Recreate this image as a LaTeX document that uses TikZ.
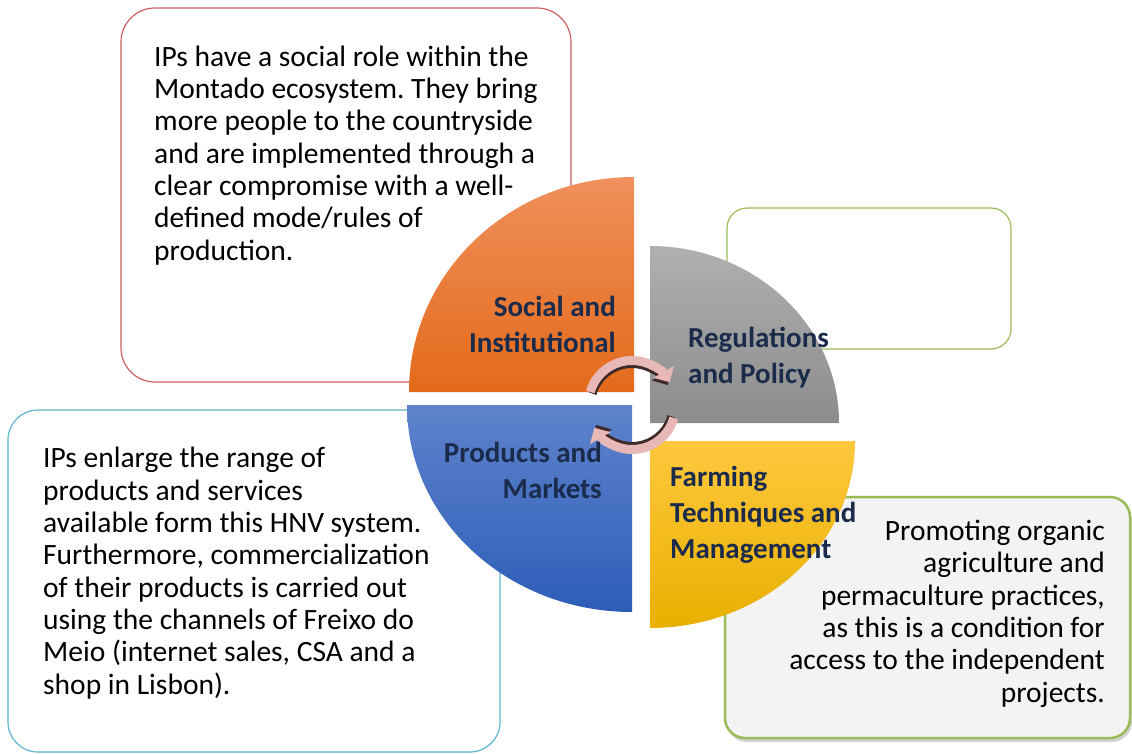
\documentclass[tikz,border=0pt]{standalone}
\usepackage{fontspec}
\setmainfont{Carlito}
\usetikzlibrary{arrows.meta,shadows}
\frenchspacing
\definecolor{navy}{HTML}{1B2B4B}
\definecolor{redb}{HTML}{CC5F61}
\definecolor{cyanb}{HTML}{5EB4CC}
\definecolor{greenb}{HTML}{9BBB59}
\definecolor{boxfill}{HTML}{F3F3F3}
\definecolor{orT}{HTML}{F0905C}
\definecolor{orB}{HTML}{E36A1A}
\definecolor{grT}{HTML}{B0B0B0}
\definecolor{grB}{HTML}{8C8C8C}
\definecolor{blT}{HTML}{5F83CC}
\definecolor{blB}{HTML}{2D5DB8}
\definecolor{yeT}{HTML}{FFC83E}
\definecolor{yeB}{HTML}{E8B000}
\definecolor{arpink}{HTML}{E8B8B6}
\definecolor{ardark}{HTML}{3E2A28}
\begin{document}
\begin{tikzpicture}[x=1pt,y=-1pt,
  box/.style={draw, line width=1.2pt, rounded corners=#1, inner sep=0pt},
  body/.style={font=\fontsize{29.5}{32.3}\selectfont, inner sep=0pt, text=black},
  lab/.style={font=\bfseries\fontsize{29}{35.8}\selectfont, inner sep=0pt, text=navy},
  arcsh/.style={line width=8pt, draw=ardark, -{Triangle[length=12pt,width=23pt]}},
  arcpk/.style={line width=9pt, draw=arpink, -{Triangle[length=12pt,width=23pt]}}]
\useasboundingbox (0,0) rectangle (1132,754);

% text boxes
\draw[box=34pt, draw=redb] (121,8) rectangle (571,382);
\draw[box=30pt, draw=cyanb] (8,410) rectangle (500,752);
\draw[box=20pt, draw=greenb] (727,208) rectangle (1011,349);
\draw[box=20pt, draw=greenb, line width=2.5pt, fill=boxfill,
  drop shadow={shadow xshift=2pt, shadow yshift=-4pt, opacity=0.35}] (725,497) rectangle (1130,738);

% quadrants
\path[top color=orT, bottom color=orB] (634,392) -- (409,392)
  arc[start angle=180, end angle=270, x radius=225, y radius=215] -- cycle;
\path[top color=grT, bottom color=grB] (650,423) -- (650,246)
  arc[start angle=270, end angle=360, x radius=189, y radius=177] -- cycle;
\path[top color=blT, bottom color=blB] (632,405) -- (632,612)
  arc[start angle=90, end angle=180, x radius=225, y radius=207] -- cycle;
\path[top color=yeT, bottom color=yeB] (650,441) -- (855,441)
  arc[start angle=0, end angle=90, x radius=205, y radius=187] -- cycle;

% circular arrows
\draw[arcsh] (632,405) ++(196:41) arc[start angle=196, end angle=331, radius=41];
\draw[arcpk] (632,404) ++(196:43.5) arc[start angle=196, end angle=330, radius=43.5];
\draw[arcsh] (632,405) ++(16:41) arc[start angle=16, end angle=151, radius=41];
\draw[arcpk] (632,406) ++(16:43.5) arc[start angle=16, end angle=150, radius=43.5];

% quadrant labels
\node[lab, anchor=base east, align=right] (si) at (616,352) {Social and\\Institutional};
\node[lab, anchor=base west, align=left] (rp) at (688,383) {Regulations\\and Policy};
\node[lab, anchor=base east, align=right] (pm) at (602,498) {Products and\\Markets};
\node[lab, anchor=base west, align=left] (ft) at (670,558) {Farming\\Techniques and\\Management};

% descriptions
\node[body, anchor=base west, align=left] (tsi) at (154,260) {IPs have a social role within the\\Montado ecosystem. They bring\\more people to the countryside\\and are implemented through a\\clear compromise with a well-\\defined mode/rules of\\production.};
\node[body, anchor=base west, align=left] (tpm) at (43,694) {IPs enlarge the range of\\products and services\\available form this HNV system.\\Furthermore, commercialization\\of their products is carried out\\using the channels of Freixo do\\Meio (internet sales, CSA and a\\shop in Lisbon).};
\node[body, anchor=base east, align=right] (tft) at (1105,702) {Promoting organic\\agriculture and\\permaculture practices,\\as this is a condition for\\access to the independent\\projects.};
\end{tikzpicture}
\end{document}
